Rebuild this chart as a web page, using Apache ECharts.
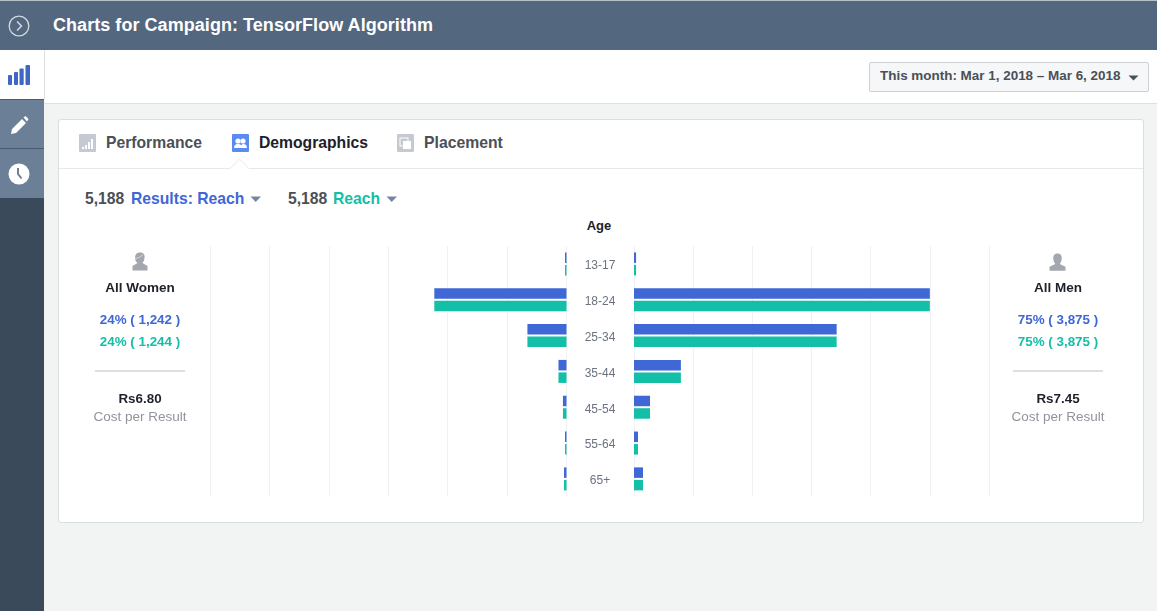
<!DOCTYPE html>
<html><head><meta charset="utf-8">
<style>
html,body{margin:0;padding:0;width:1157px;height:611px;overflow:hidden;background:#f2f4f4;font-family:"Liberation Sans",Arial,sans-serif}
.a{position:absolute;white-space:nowrap}
.c{text-align:center}
svg{position:absolute;display:block}
</style>
<script src="https://cdn.jsdelivr.net/npm/echarts@6/dist/echarts.min.js"></script>
</head><body>
<div class="a" style="left:0;top:0;width:1157px;height:50px;background:#53677f;border-top:1px solid #b9bfc6;box-sizing:border-box"></div>
<div class="a" style="left:53px;top:15px;font-size:18px;line-height:20px;font-weight:bold;color:#fff;letter-spacing:.05px">Charts for Campaign: TensorFlow Algorithm</div>
<svg style="left:8px;top:15px" width="22" height="22" viewBox="0 0 22 22"><circle cx="11" cy="11" r="9.8" fill="none" stroke="#d5dbe2" stroke-width="1.3"/><path d="M9 6.5 L13.5 11 L9 15.5" fill="none" stroke="#d5dbe2" stroke-width="1.5"/></svg>

<div class="a" style="left:0;top:50px;width:44px;height:561px;background:#3a4a5b"></div>
<div class="a" style="left:0;top:50px;width:44px;height:49px;background:#fff;border-right:1px solid #dddfe2"></div>
<div class="a" style="left:0;top:99px;width:44px;height:99px;background:#6b7f97"></div>
<div class="a" style="left:0;top:99px;width:44px;height:1px;background:#4a5c70"></div>
<div class="a" style="left:0;top:148px;width:44px;height:1px;background:#4a5c70"></div>
<svg style="left:8px;top:65px" width="22" height="20" viewBox="0 0 22 20"><g fill="#3f67c4"><rect x="0" y="10" width="4" height="10" rx="1"/><rect x="6" y="7" width="4" height="13" rx="1"/><rect x="11.5" y="3.5" width="4.2" height="16.5" rx="1"/><rect x="17.5" y="0" width="4.5" height="20" rx="1"/></g></svg>
<svg style="left:10px;top:115px" width="19" height="20" viewBox="0 0 19 20"><path d="M1 19 L2 14 L12 4 L16 8 L6 18 Z M13.5 2.5 L15.5 1 L18.5 4 L17 6.5 Z" fill="#fff"/></svg>
<svg style="left:8px;top:163px" width="22" height="22" viewBox="0 0 22 22"><circle cx="11" cy="11" r="10.5" fill="#fff"/><path d="M10 5 V11 L13.5 15.5" fill="none" stroke="#6b7f97" stroke-width="2"/></svg>

<div class="a" style="left:45px;top:50px;width:1112px;height:53px;background:#fff;border-bottom:1px solid #dddfe2"></div>
<div class="a" style="left:869px;top:62px;width:278px;height:28px;background:#f6f7f9;border:1px solid #ced0d4;border-radius:2px"></div>
<div class="a" style="left:880px;top:68px;font-size:13.45px;line-height:16px;font-weight:bold;color:#4b4f56">This month: Mar 1, 2018 – Mar 6, 2018</div>
<svg style="left:1128px;top:75px" width="11" height="6"><path d="M0.5 0.5 H10.5 L5.5 5.5 Z" fill="#4b4f56"/></svg>

<div class="a" style="left:58px;top:119px;width:1084px;height:402px;background:#fff;border:1px solid #dadde1;border-radius:3px"></div>
<div class="a" style="left:59px;top:168px;width:1084px;height:1px;background:#e6e8eb"></div>
<svg style="left:229px;top:158px" width="22" height="12"><path d="M0 10.5 H1 L10.5 1 L20 10.5 H22 V12 H0 Z" fill="#fff"/><path d="M0 10.5 H1 L10.5 1 L20 10.5 H22" fill="none" stroke="#e6e8eb"/></svg>

<svg style="left:79px;top:134px" width="17" height="18"><rect width="17" height="18" rx="1" fill="#c5c9d1"/><g fill="#fff"><rect x="3" y="13" width="2" height="2"/><rect x="6" y="11" width="2" height="4"/><rect x="9" y="8" width="2" height="7"/><rect x="12" y="5" width="2" height="10"/></g></svg>
<div class="a" style="left:106px;top:133px;font-size:15.7px;line-height:19px;font-weight:bold;color:#4b4f56">Performance</div>
<svg style="left:232px;top:134px" width="17" height="18"><rect width="17" height="18" rx="1" fill="#5b8bf0"/><g fill="#fff"><circle cx="6" cy="7" r="2.6"/><circle cx="11" cy="7" r="2.6"/><path d="M2 14 Q2 10 6 10 Q10 10 10 14 Z M9 14 Q9 10 11 10 Q15 10 15 14 Z"/></g></svg>
<div class="a" style="left:259px;top:133px;font-size:15.7px;line-height:19px;font-weight:bold;color:#1d2129">Demographics</div>
<svg style="left:397px;top:134px" width="17" height="18"><rect width="17" height="18" rx="1" fill="#c5c9d1"/><rect x="3" y="4" width="8" height="8" fill="none" stroke="#fff"/><rect x="6" y="7" width="8" height="8" fill="#fff"/></svg>
<div class="a" style="left:424px;top:133px;font-size:15.75px;line-height:19px;font-weight:bold;color:#4b4f56">Placement</div>

<div class="a" style="left:85px;top:190px;font-size:15.7px;line-height:18px;font-weight:bold"><span style="color:#4b4f56" id="t1"></span></div>
<div class="a" style="left:131px;top:190px;font-size:15.7px;line-height:18px;font-weight:bold;color:#3f67d6">Results: Reach</div>
<svg style="left:250px;top:196px" width="12" height="7"><path d="M0.5 0.5 H11 L5.7 6 Z" fill="#7585a3"/></svg>
<div class="a" style="left:288px;top:190px;font-size:15.7px;line-height:18px;font-weight:bold"><span style="color:#4b4f56" id="t2"></span></div>
<div class="a" style="left:333px;top:190px;font-size:15.7px;line-height:18px;font-weight:bold;color:#13bfa6">Reach</div>
<svg style="left:386px;top:196px" width="12" height="7"><path d="M0.5 0.5 H11 L5.7 6 Z" fill="#7585a3"/></svg>
<div class="a c" style="left:500px;width:198px;top:218px;font-size:13px;line-height:15px;font-weight:bold;color:#1d2129">Age</div>

<div id="chart" class="a" style="left:0;top:0;width:1157px;height:611px"></div>
<div id="panels"></div>

<script>
var ageGroups = ['13-17','18-24','25-34','35-44','45-54','55-64','65+'];
var womenResults = [10, 890, 263, 54, 24, 10, 17];
var womenReach   = [10, 890, 263, 54, 24, 10, 17];
var menResults   = [14, 2000, 1370, 317, 108, 27, 61];
var menReach     = [14, 2000, 1370, 317, 108, 27, 61];
var axisMax = 2400, axisStep = 400;
var totals = ['5,188','5,188'];
var panelTitles = ['All Women','All Men'];
var panelResults = ['24% ( 1,242 )','75% ( 3,875 )'];
var panelReach = ['24% ( 1,244 )','75% ( 3,875 )'];
var panelCost = ['Rs6.80','Rs7.45'];
var costLabel = 'Cost per Result';
var blue = '#3f67d6', teal = '#13bfa6', gridColor = '#f0f1f3';

document.getElementById('t1').textContent = totals[0];
document.getElementById('t2').textContent = totals[1];

var womanIcon = '<svg style="left:132px;top:252px" width="16" height="19" viewBox="0 0 16 19"><path d="M8 0.5 C12 0.5 13 3 12.5 6 C12.3 8.5 11 10.5 10.5 11 L15.5 14 V18.5 H0.5 V14 L5.5 11 C4 10 3 8 3.2 6 C3 3 4 0.5 8 0.5 Z" fill="#a3a7b0"/><path d="M3.5 6.5 Q8 6 11 2.5" fill="none" stroke="#fff" stroke-width=".5"/></svg>';
var manIcon = '<svg style="left:1049px;top:253px" width="17" height="18" viewBox="0 0 17 18"><path d="M8.5 0.5 C12 0.5 13 3 12.7 6 C12.5 8.5 11.5 10 10.7 11 L16.5 13.8 V17.8 H0.5 V13.8 L6.3 11 C5.5 10 4.5 8.5 4.3 6 C4 3 5 0.5 8.5 0.5 Z" fill="#a3a7b0"/></svg>';

var html = womanIcon + manIcon;
[140, 1058].forEach(function(cx, i){
  var left = cx - 70;
  function row(top, fs, bold, col, txt){
    html += '<div class="a c" style="left:'+left+'px;width:140px;top:'+top+'px;font-size:'+fs+'px;line-height:16px;font-weight:'+(bold?'bold':'normal')+';color:'+col+'">'+txt+'</div>';
  }
  row(280, 13.5, true, '#1d2129', panelTitles[i]);
  row(312, 13.4, true, blue, panelResults[i]);
  row(334, 13.4, true, teal, panelReach[i]);
  row(391, 13.4, true, '#1d2129', panelCost[i]);
  row(409, 13.5, false, '#90949c', costLabel);
  html += '<div class="a" style="left:'+(cx-45)+'px;top:370px;width:90px;height:2px;background:#dcdee0"></div>';
});
document.getElementById('panels').innerHTML = html;

var chart = echarts.init(document.getElementById('chart'), null, {renderer:'canvas'});
function valueAxis(idx, inverse){
  return {type:'value', gridIndex:idx, min:0, max:axisMax, interval:axisStep, inverse:inverse,
    axisLabel:{show:false}, axisLine:{show:false}, axisTick:{show:false},
    splitLine:{show:true, lineStyle:{color:gridColor, width:1}}};
}
function catAxis(idx, showLabel){
  return {type:'category', gridIndex:idx, data:ageGroups, inverse:true,
    axisLine:{show:false}, axisTick:{show:false}, splitLine:{show:false},
    axisLabel:{show:showLabel, align:'center', margin:34, color:'#6b7280', fontSize:12, fontFamily:'Liberation Sans', verticalAlign:'top', lineHeight:4}};
}
function bars(name, data, idx, color){
  return {name:name, type:'bar', xAxisIndex:idx, yAxisIndex:idx, data:data, barWidth:10.5, barGap:'19%',
    itemStyle:{color:color}, silent:true, animation:false};
}
chart.setOption({
  animation:false,
  backgroundColor:'transparent',
  grid:[
    {left:210, width:356.5, top:246, height:250.8},
    {left:634, width:355, top:246, height:250.8}
  ],
  xAxis:[valueAxis(0,true), valueAxis(1,false)],
  yAxis:[catAxis(0,false), catAxis(1,true)],
  series:[
    bars('Results: Reach (women)', womenResults, 0, blue),
    bars('Reach (women)', womenReach, 0, teal),
    bars('Results: Reach (men)', menResults, 1, blue),
    bars('Reach (men)', menReach, 1, teal)
  ]
});
</script>
</body></html>
